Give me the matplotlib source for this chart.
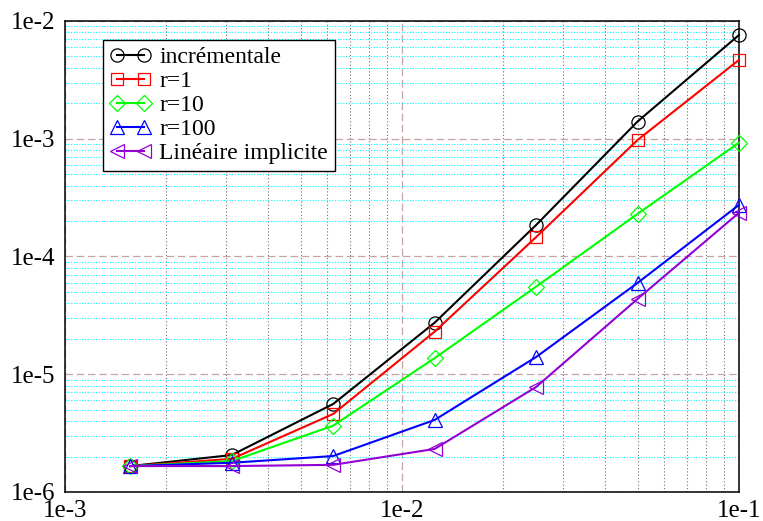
import numpy as np
import matplotlib.pyplot as plt
from matplotlib.ticker import FixedLocator, NullFormatter, LogLocator

plt.rcParams['font.family'] = ['Liberation Serif', 'DejaVu Serif']

# pas de temps
dt = [0.0015625, 0.003125, 0.00625, 0.0125, 0.025, 0.05, 0.1]

# erreurs
err_incr = [1.66e-6, 2.06e-6, 5.59e-6, 2.74e-5, 1.85e-4, 1.40e-3, 7.60e-3]
err_r1 = [1.66e-6, 1.91e-6, 4.60e-6, 2.30e-5, 1.46e-4, 9.75e-4, 4.67e-3]
err_r10 = [1.66e-6, 1.83e-6, 3.66e-6, 1.37e-5, 5.54e-5, 2.30e-4, 9.26e-4]
err_r100 = [1.66e-6, 1.77e-6, 2.02e-6, 4.09e-6, 1.40e-5, 5.96e-5, 2.74e-4]
err_lin = [1.66e-6, 1.66e-6, 1.70e-6, 2.32e-6, 7.79e-6, 4.36e-5, 2.35e-4]

labels = ['incrémentale', 'r=1', 'r=10', 'r=100', 'Linéaire implicite']
xticks = [1e-3, 1e-2, 1e-1]
xticklabels = ['1e-3', '1e-2', '1e-1']
yticks = [1e-6, 1e-5, 1e-4, 1e-3, 1e-2]
yticklabels = ['1e-6', '1e-5', '1e-4', '1e-3', '1e-2']

series = [err_incr, err_r1, err_r10, err_r100, err_lin]
colors = ['black', '#ff0000', '#00ff00', '#0000ff', '#9400d3']
markers = ['o', 's', 'D', '^', '<']
msizes = [9.5, 9, 8, 9.5, 9.5]

fig = plt.figure(figsize=(7.63, 5.21), dpi=100)
ax = fig.add_axes([0.0852, 0.0557, 0.8833, 0.904])

for y, c, m, ms, lab in zip(series, colors, markers, msizes, labels):
    ax.plot(dt, y, color=c, lw=1.5, marker=m, ms=ms, mfc='none',
            mec=c, mew=0.9, label=lab, clip_on=False, zorder=3)

ax.set_xscale('log')
ax.set_yscale('log')
ax.set_xlim(1e-3, 1e-1)
ax.set_ylim(1e-6, 1e-2)

ax.xaxis.set_major_locator(FixedLocator(xticks))
ax.set_xticklabels(xticklabels)
ax.yaxis.set_major_locator(FixedLocator(yticks))
ax.set_yticklabels(yticklabels)
ax.xaxis.set_minor_locator(LogLocator(base=10, subs=np.arange(2, 10)))
ax.yaxis.set_minor_locator(LogLocator(base=10, subs=np.arange(2, 10)))
ax.xaxis.set_minor_formatter(NullFormatter())
ax.yaxis.set_minor_formatter(NullFormatter())

ax.tick_params(which='both', direction='in', length=0, labelsize=18)
ax.tick_params(axis='x', pad=6)
ax.tick_params(axis='y', pad=7)

# grille facon gnuplot
ax.grid(True, which='major', ls=(0, (6, 3)), color='#c4a4a4', lw=0.9, zorder=1)
ax.xaxis.grid(True, which='minor', ls=(0, (1, 2)), color='#707070', lw=0.8, zorder=1)
ax.yaxis.grid(True, which='minor', ls=(0, (1, 1.5)), color='#00ffff', lw=0.8, zorder=1)

for sp in ax.spines.values():
    sp.set_linewidth(1.1)

leg = ax.legend(loc='upper left', bbox_to_anchor=(0.056, 0.96), borderaxespad=0,
                fontsize=17, numpoints=2, handlelength=1.75, handletextpad=0.35,
                labelspacing=0.1, borderpad=0.3, fancybox=False, framealpha=1,
                edgecolor='black')
leg.get_frame().set_linewidth(1.0)

fig.savefig('out.png', dpi=100)
